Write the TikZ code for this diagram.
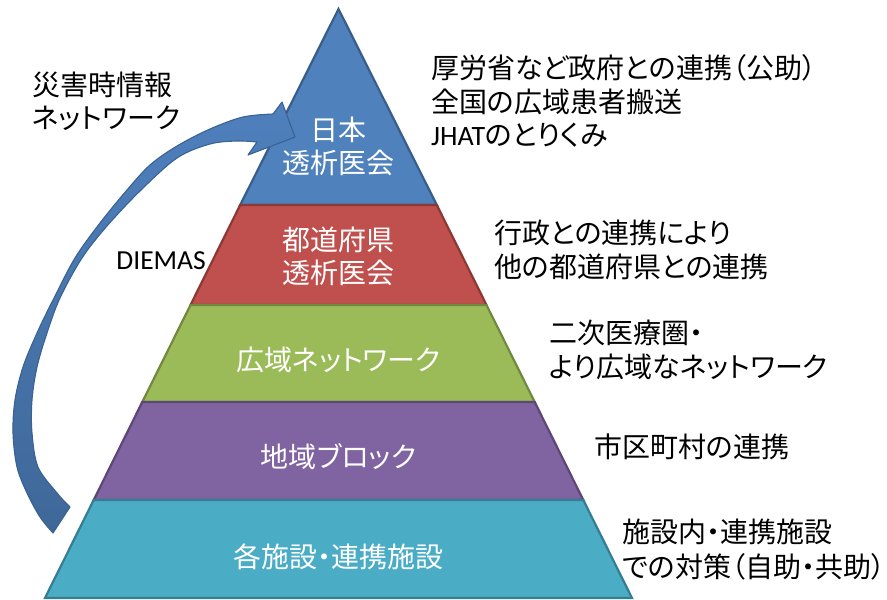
\documentclass[tikz,border=0pt]{standalone}
\usepackage{fontspec}
\setmainfont{Noto Sans CJK JP}[RawFeature={+palt}]
\newfontfamily\lat{Carlito}
\definecolor{cA}{HTML}{4F81BD}\definecolor{cAd}{HTML}{385D8A}
\definecolor{cB}{HTML}{C0504D}\definecolor{cBd}{HTML}{8C3836}
\definecolor{cC}{HTML}{9BBB59}\definecolor{cCd}{HTML}{71893F}
\definecolor{cD}{HTML}{8064A2}\definecolor{cDd}{HTML}{5C4776}
\definecolor{cE}{HTML}{4BACC6}\definecolor{cEd}{HTML}{357D91}
\definecolor{arT}{HTML}{4F80BD}\definecolor{arB}{HTML}{3F6899}\definecolor{arD}{HTML}{3A6292}
\begin{document}
\begin{tikzpicture}[x=1pt,y=-1pt,
  lay/.style={line width=2.2pt, line join=miter},
  wtxt/.style={anchor=base, text=white, inner sep=0pt, font=\fontsize{28}{34}\selectfont},
  btxt/.style={anchor=base west, text=black, inner sep=0pt, font=\fontsize{28}{34}\selectfont},
  arrowsty/.style={top color=arT, bottom color=arB, draw=arD, line width=1.1pt, line join=round}]
\useasboundingbox (0,0) rectangle (887,600);
% pyramid layers
\draw[lay, fill=cA, draw=cAd] (338.5,9) -- (436.8,205) -- (240.2,205) -- cycle;
\draw[lay, fill=cB, draw=cBd] (240.2,205) -- (436.8,205) -- (486.5,305) -- (190.5,305) -- cycle;
\draw[lay, fill=cC, draw=cCd] (190.5,305) -- (486.5,305) -- (534.7,402) -- (142.3,402) -- cycle;
\draw[lay, fill=cD, draw=cDd] (142.3,402) -- (534.7,402) -- (583.3,500) -- (93.7,500) -- cycle;
\draw[lay, fill=cE, draw=cEd] (93.7,500) -- (583.3,500) -- (632,598) -- (45,598) -- cycle;
% curved arrow
\path[arrowsty] plot[smooth, tension=0.55] coordinates {(53,533) (40,517) (27,493) (17,467) (13,433) (15,400) (23,367) (37,333) (53,300) (75,258) (100,223) (127,190) (150,165) (177,146) (210,129) (243,117) (273,114)}
  -- (282,102) -- (295,137) -- (248,155)
  -- plot[smooth, tension=0.55] coordinates {(257,142) (237,141) (210,144) (177,158) (140,191) (107,226) (82,258) (60,298) (47,333) (37,367) (32,400) (32,433) (38,467) (57,493) (70,507)} -- cycle;
% layer labels
\node[wtxt] (t1a) at (338.5,140.6) {日本};
\node[wtxt] (t1b) at (338.5,173.6) {透析医会};
\node[wtxt] (t2a) at (338.5,250.6) {都道府県};
\node[wtxt] (t2b) at (338.5,283.6) {透析医会};
\node[wtxt] (t3) at (338.5,370.6) {広域ネットワーク};
\node[wtxt] (t4) at (338.5,467.6) {地域ブロック};
\node[wtxt] (t5) at (338.5,567.6) {各施設・連携施設};
% left texts
\node[btxt] (l1) at (32,95.6) {災害時情報};
\node[btxt] (l2) at (32,128.6) {ネットワーク};
\node[anchor=base east, inner sep=0pt, font=\lat\fontsize{27.5}{33}\selectfont] (dm) at (206,269) {DIEMAS};
% right texts
\node[btxt] (r1a) at (431,78.6) {厚労省など政府との連携（公助）};
\node[btxt] (r1b) at (431,112.6) {全国の広域患者搬送};
\node[btxt] (r1c) at (431,145.6) {{\lat JHAT}のとりくみ};
\node[btxt] (r2a) at (494,243.6) {行政との連携により};
\node[btxt] (r2b) at (494,277.6) {他の都道府県との連携};
\node[btxt] (r3a) at (549,343.6) {二次医療圏・};
\node[btxt] (r3b) at (549,377.6) {より広域なネットワーク};
\node[btxt] (r4) at (594,457.6) {市区町村の連携};
\node[btxt] (r5a) at (622,542.6) {施設内・連携施設};
\node[btxt] (r5b) at (622,577.6) {での対策（自助・共助\rlap{）}};
\end{tikzpicture}
\end{document}
